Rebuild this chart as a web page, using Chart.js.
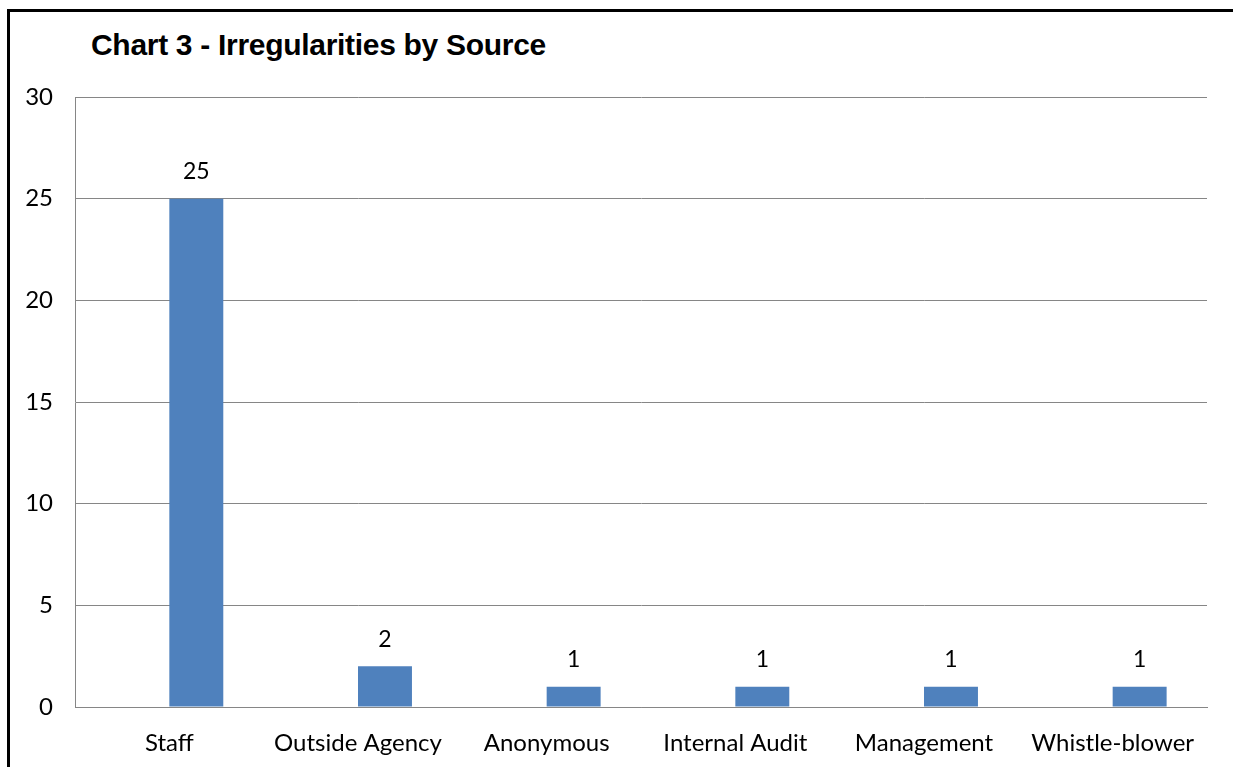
<!DOCTYPE html>
<html>
<head>
<meta charset="utf-8">
<script src="https://cdn.jsdelivr.net/npm/chart.js@4"></script>
<style>
  html, body { margin: 0; padding: 0; background: #fff; overflow: hidden; }
  #frame { position: absolute; left: 7px; top: 9px; width: 1240px; height: 770px;
           border-top: 3px solid #000; border-left: 3px solid #000; }
  #title { position: absolute; left: 91px; top: 28px; font: bold 30px "Liberation Sans", Arial, sans-serif;
           color: #000; letter-spacing: -0.3px; white-space: nowrap; }
  #wrap { position: absolute; left: 0; top: 0; width: 1233px; height: 767px; }
</style>
</head>
<body>
<div id="frame"></div>
<div id="title">Chart 3 - Irregularities by Source</div>
<div id="wrap"><canvas id="chart"></canvas></div>
<script>
// chart data
const sources = ['Staff', 'Outside Agency', 'Anonymous', 'Internal Audit', 'Management', 'Whistle-blower'];
const emptySeries = [null, null, null, null, null, null]; // blank first series, as in the original sheet
const counts = [25, 2, 1, 1, 1, 1];
const yTicks = [0, 5, 10, 15, 20, 25, 30];

const fontFamily = 'Lato, "Noto Sans", sans-serif';

// value labels above each bar
const barValues = {
    id: 'barValues',
    afterDatasetsDraw(chart) {
        const ctx = chart.ctx;
        const meta = chart.getDatasetMeta(1);
        ctx.save();
        ctx.font = '23px ' + fontFamily;
        ctx.fillStyle = '#000';
        ctx.textAlign = 'center';
        ctx.textBaseline = 'middle';
        meta.data.forEach((bar, i) => {
            ctx.fillText(String(counts[i]), bar.x, bar.y - 27);
        });
        ctx.restore();
    }
};

const ctx = document.getElementById('chart').getContext('2d');
new Chart(ctx, {
    type: 'bar',
    data: {
        labels: sources,
        datasets: [
            { data: emptySeries, backgroundColor: '#C0504D' },
            { data: counts, backgroundColor: '#4F81BD' }
        ]
    },
    options: {
        responsive: true,
        maintainAspectRatio: false,
        animation: false,
        datasets: { bar: { barPercentage: 1, categoryPercentage: 0.572 } },
        layout: { padding: { left: 0, right: 26, top: 97, bottom: 9 } },
        plugins: {
            legend: { display: false },
            tooltip: { enabled: false }
        },
        scales: {
            x: {
                afterFit: (scale) => { scale.height = 51; },
                grid: { display: false, drawTicks: false },
                border: { display: true, color: '#868686', width: 1 },
                ticks: {
                    autoSkip: false,
                    maxRotation: 0,
                    padding: 22,
                    color: '#000',
                    font: { family: fontFamily, size: 24 }
                }
            },
            y: {
                min: 0,
                max: 30,
                afterBuildTicks: (scale) => { scale.ticks = yTicks.map(v => ({ value: v })); },
                afterFit: (scale) => { scale.width = 75; },
                grid: { color: '#868686', lineWidth: 1, drawTicks: false },
                border: { display: true, color: '#868686', width: 1 },
                ticks: {
                    padding: 22,
                    color: '#000',
                    font: { family: fontFamily, size: 24 }
                }
            }
        }
    },
    plugins: [barValues]
});
</script>
</body>
</html>
